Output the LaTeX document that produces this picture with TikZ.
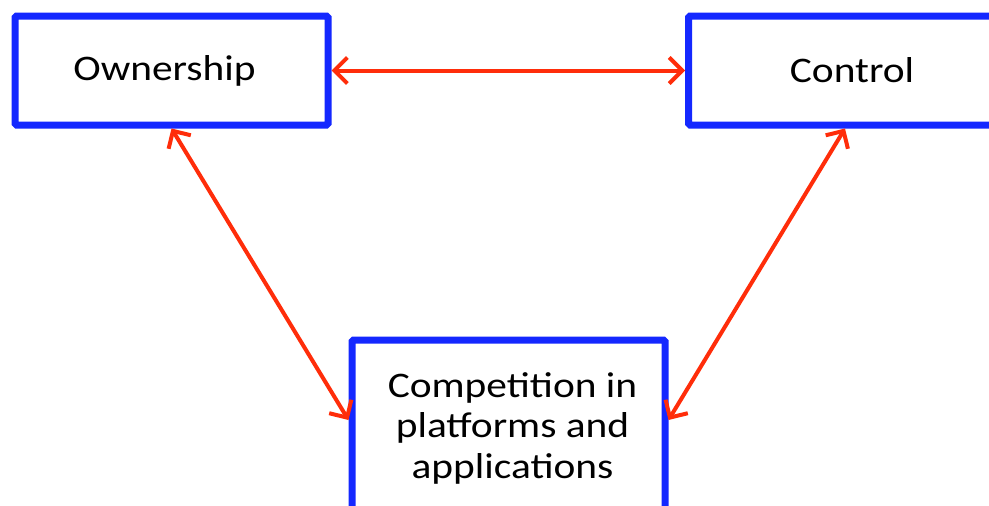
\documentclass[tikz,border=0pt]{standalone}
\usepackage{fontspec}
\setmainfont{Carlito}[FakeStretch=1.15]
\usepackage{tikz}
\usetikzlibrary{arrows.meta}

\definecolor{boxblue}{RGB}{20,40,255}
\definecolor{arrowred}{RGB}{255,45,10}

\begin{document}
\begin{tikzpicture}[x=1pt, y=-1pt,
                    box node/.style={rectangle, draw=boxblue, line width=7pt, fill=white,
                      rounded corners=1.5pt, minimum width=313pt,
                      font=\fontsize{36}{40.5}\selectfont, align=center},
                    link/.style={arrowred, line width=4pt,
                      {Straight Barb[length=13pt,width=26pt]}-{Straight Barb[length=13pt,width=26pt]}}]
  \useasboundingbox (0,0) rectangle (989,506);
  \begin{scope}
  \clip (0,0) rectangle (989,506);
  \node[box node, minimum height=109pt] (own) at (171.5,70.5) {Ownership\hspace*{14pt}};
  \node[box node, minimum height=109pt] (ctrl) at (845,70.5) {\hspace*{14pt}Control};
  \node[box node, minimum height=176pt] (comp) at (508.5,428)
    {\hspace*{8pt}Competition in\\\hspace*{8pt}platforms and\\\hspace*{8pt}applications};
  \path[link]
    (own) edge (ctrl)
    (own.south) edge ([yshift=8pt]comp.west)
    (ctrl.south) edge ([yshift=8pt]comp.east);
  \end{scope}
\end{tikzpicture}
\end{document}
